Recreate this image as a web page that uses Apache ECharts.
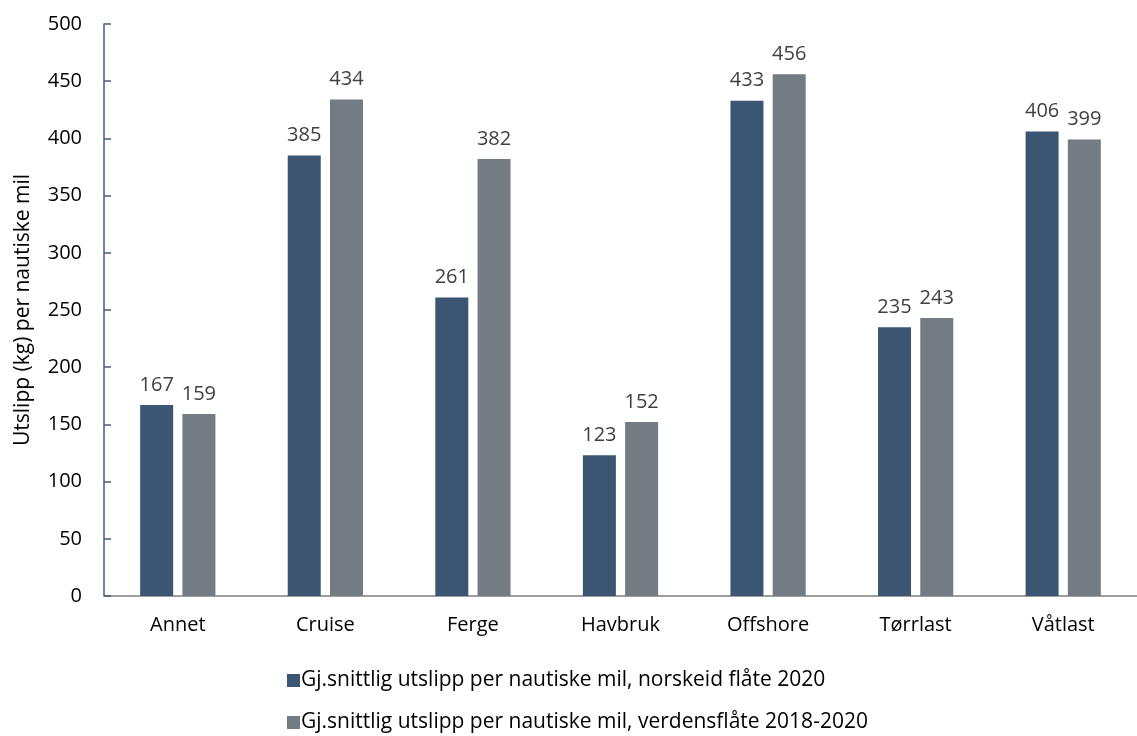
<!DOCTYPE html>
<html>
<head>
<meta charset="utf-8">
<script src="https://cdn.jsdelivr.net/npm/echarts@6/dist/echarts.min.js"></script>
<style>
  html, body { margin: 0; padding: 0; background: #fff; }
  #chart { width: 1137px; height: 736px; }
</style>
</head>
<body>
<div id="chart"></div>
<script>
// Average emissions per nautical mile by vessel segment
const categories = ['Annet', 'Cruise', 'Ferge', 'Havbruk', 'Offshore', 'Tørrlast', 'Våtlast'];
const norskeid2020 = [167, 385, 261, 123, 433, 235, 406];
const verden2018_2020 = [159, 434, 382, 152, 456, 243, 399];
const yTicks = [0, 50, 100, 150, 200, 250, 300, 350, 400, 450, 500];

const seriesNames = [
  'Gj.snittlig utslipp per nautiske mil, norskeid flåte 2020',
  'Gj.snittlig utslipp per nautiske mil, verdensflåte 2018-2020'
];

const FONT = '"Open Sans", "Noto Sans", sans-serif';

const chart = echarts.init(document.getElementById('chart'), null, { renderer: 'canvas' });

const labelStyle = {
  show: true,
  position: 'top',
  distance: 10,
  color: '#404040',
  fontSize: 20,
  fontFamily: FONT
};

// one legend row per series, stacked vertically under the plot
const legendRow = (name, top) => ({
  orient: 'horizontal',
  left: 282,
  top: top,
  itemWidth: 13,
  itemHeight: 13,
  icon: 'rect',
  textStyle: { fontSize: 21, color: '#000', fontFamily: FONT, padding: [0, 0, 0, -4] },
  data: [name]
});

chart.setOption({
  animation: false,
  textStyle: { fontFamily: FONT },
  grid: { left: 104, top: 24, width: 1047, height: 572, containLabel: false },
  legend: [
    legendRow(seriesNames[0], 665),
    legendRow(seriesNames[1], 707)
  ],
  xAxis: {
    type: 'category',
    data: categories,
    axisLine: { lineStyle: { color: '#7f7f7f', width: 1.5 } },
    axisTick: { show: false },
    axisLabel: { color: '#000', fontSize: 20, margin: 19, fontFamily: FONT }
  },
  yAxis: {
    type: 'value',
    min: yTicks[0],
    max: yTicks[yTicks.length - 1],
    interval: yTicks[1] - yTicks[0],
    name: 'Utslipp (kg) per nautiske mil',
    nameLocation: 'middle',
    nameGap: 70,
    nameRotate: 90,
    nameTextStyle: { color: '#000', fontSize: 21, fontFamily: FONT },
    axisLine: { show: true, lineStyle: { color: '#44607f', width: 1.5 } },
    axisTick: { show: true, inside: true, length: 7, lineStyle: { color: '#44607f', width: 1.5 } },
    splitLine: { show: false },
    axisLabel: { color: '#000', fontSize: 20, margin: 22, fontFamily: FONT }
  },
  series: [
    {
      name: seriesNames[0],
      type: 'bar',
      data: norskeid2020,
      barWidth: 33,
      barGap: '28%',
      itemStyle: { color: '#3b5573' },
      label: labelStyle
    },
    {
      name: seriesNames[1],
      type: 'bar',
      data: verden2018_2020,
      barWidth: 33,
      itemStyle: { color: '#737b83' },
      label: labelStyle
    }
  ]
});
</script>
</body>
</html>
